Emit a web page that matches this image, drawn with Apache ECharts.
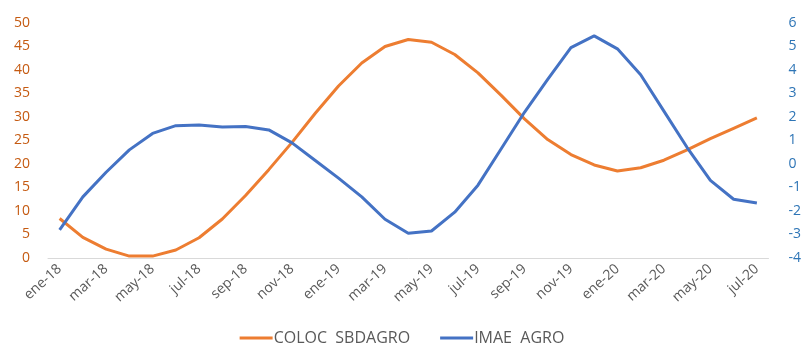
<!DOCTYPE html>
<html lang="es">
<head>
  <meta charset="UTF-8">
  <title>COLOC SBDAGRO vs IMAE AGRO</title>
  <script src="https://cdn.jsdelivr.net/npm/echarts@6.0.0/dist/echarts.min.js"></script>
  <style>
    html, body { margin: 0; padding: 0; background: #fff; }
    #chart { width: 804px; height: 346px; }
  </style>
</head>
<body>
  <div id="chart"></div>
  <script>
    // meses ene-18 .. jul-20
    const months = [
      'ene-18', 'feb-18', 'mar-18', 'abr-18', 'may-18', 'jun-18', 'jul-18', 'ago-18', 'sep-18', 'oct-18', 'nov-18', 'dic-18',
      'ene-19', 'feb-19', 'mar-19', 'abr-19', 'may-19', 'jun-19', 'jul-19', 'ago-19', 'sep-19', 'oct-19', 'nov-19', 'dic-19',
      'ene-20', 'feb-20', 'mar-20', 'abr-20', 'may-20', 'jun-20', 'jul-20'
    ];
    // eje izquierdo
    const colocSbdagro = [
      8.4, 4.4, 1.9, 0.4, 0.4, 1.7, 4.3, 8.3, 13.3, 18.8, 24.6, 30.8,
      36.6, 41.5, 45.0, 46.5, 45.9, 43.3, 39.4, 34.6, 29.6, 25.2, 22.0, 19.8,
      18.5, 19.2, 20.8, 23.0, 25.4, 27.6, 29.8
    ];
    // eje derecho
    const imaeAgro = [
      -2.8, -1.4, -0.35, 0.6, 1.3, 1.63, 1.66, 1.57, 1.6, 1.45, 0.9, 0.15,
      -0.6, -1.4, -2.35, -2.95, -2.85, -2.05, -0.9, 0.65, 2.2, 3.6, 4.95, 5.45,
      4.9, 3.8, 2.25, 0.7, -0.7, -1.5, -1.66
    ];

    const chart = echarts.init(document.getElementById('chart'), null, { renderer: 'canvas' });

    const font = '"Open Sans", "DejaVu Sans", sans-serif';

    const option = {
      animation: false,
      textStyle: { fontFamily: font },
      grid: { left: 48, right: 32, top: 23, bottom: 88, containLabel: false },
      legend: {
        top: 330,
        left: 'center',
        padding: 0,
        itemWidth: 33,
        itemHeight: 3,
        itemGap: 30,
        icon: 'rect',
        textStyle: { color: '#595959', fontSize: 16, fontFamily: font, padding: [0, 0, 0, -4] },
        data: ['COLOC  SBDAGRO', 'IMAE  AGRO']
      },
      xAxis: {
        type: 'category',
        data: months,
        boundaryGap: true,
        axisLine: { lineStyle: { color: '#d9d9d9', width: 1 } },
        axisTick: { show: false },
        axisLabel: {
          interval: 1,
          rotate: 42,
          color: '#595959',
          fontSize: 14,
          margin: 9
        }
      },
      yAxis: [
        {
          type: 'value',
          min: 0,
          max: 50,
          interval: 5,
          splitLine: { show: false },
          axisLine: { show: false },
          axisTick: { show: false },
          axisLabel: { color: '#C55A11', fontSize: 14, margin: 18 }
        },
        {
          type: 'value',
          min: -4,
          max: 6,
          interval: 1,
          position: 'right',
          splitLine: { show: false },
          axisLine: { show: false },
          axisTick: { show: false },
          axisLabel: { color: '#2E75B6', fontSize: 14, margin: 20, align: 'left' }
        }
      ],
      series: [
        {
          name: 'COLOC  SBDAGRO',
          type: 'line',
          yAxisIndex: 0,
          data: colocSbdagro,
          showSymbol: false,
          symbol: 'none',
          itemStyle: { color: '#ED7D31' },
          lineStyle: { color: '#ED7D31', width: 3 }
        },
        {
          name: 'IMAE  AGRO',
          type: 'line',
          yAxisIndex: 1,
          data: imaeAgro,
          showSymbol: false,
          symbol: 'none',
          itemStyle: { color: '#4472C4' },
          lineStyle: { color: '#4472C4', width: 3 }
        }
      ]
    };

    option && chart.setOption(option);
  </script>
</body>
</html>
